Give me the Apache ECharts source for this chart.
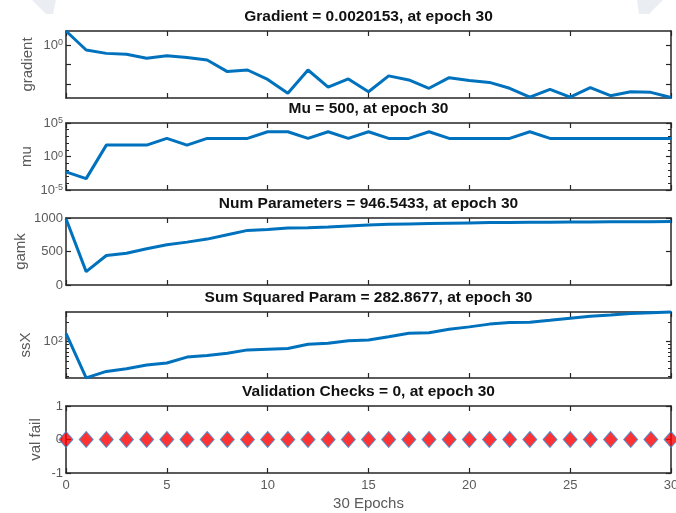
<!DOCTYPE html>
<html><head><meta charset="utf-8">
<script src="https://cdn.jsdelivr.net/npm/echarts@6/dist/echarts.min.js"></script>
<style>html,body{margin:0;padding:0;background:#fff}#c{width:676px;height:513px}</style>
</head><body><div id="c"></div>
<script>
const epochs = [0,1,2,3,4,5,6,7,8,9,10,11,12,13,14,15,16,17,18,19,20,21,22,23,24,25,26,27,28,29,30];
const gradient = [5.2,0.55,0.37,0.33,0.21,0.28,0.23,0.17,0.043,0.052,0.017,0.0033,0.052,0.0068,0.018,0.0040,0.026,0.016,0.0060,0.021,0.015,0.012,0.0060,0.0021,0.0053,0.0021,0.0065,0.0025,0.0040,0.0037,0.0020153];
const mu = [0.005,0.0005,50,50,50,500,50,500,500,500,5000,5000,500,5000,500,5000,500,500,5000,500,500,500,500,5000,500,500,500,500,500,500,500];
const gamk = [990,200,440,475,540,600,640,685,750,815,830,850,855,865,880,895,905,912,918,923,927,931,934,936,938,940,942,943,944,945.5,946.5433];
const ssX = [134,28.1,35.3,38.8,44.2,47.3,58.2,61.5,66.8,75,76.9,78.5,91.5,94.6,103.5,106,119,134,137,154,168,185,196,198,212,228,244,255,268,276,282.8677];
const valFail = [0,0,0,0,0,0,0,0,0,0,0,0,0,0,0,0,0,0,0,0,0,0,0,0,0,0,0,0,0,0,0];

const titles = ['Gradient = 0.0020153, at epoch 30','Mu = 500, at epoch 30','Num Parameters = 946.5433, at epoch 30','Sum Squared Param = 282.8677, at epoch 30','Validation Checks = 0, at epoch 30'];
const yNames = ['gradient','mu','gamk','ssX','val fail'];
const xTicks = [0,5,10,15,20,25,30];
const gradLabels = [1], gradMajor = [0.01,0.1,1], gradMinor = [];
const muLabels = [1e-5,1,1e5], muMajor = [1e-5,1,1e5], muMinor = [1e-4,1e-3,1e-2,1e-1,10,100,1000,1e4];
const ssXLabels = [100], ssXMajor = [100], ssXMinor = [30,40,50,60,70,80,90,200];
const gamkTicks = [0,500,1000];
const valTicks = [-1,0,1];

const L = 66, R = 5;
const tops = [31,123,218,312,406];
const hts = [67,67,67,66,67];
const nameGaps = [31,32,38,33,23];
const AX = '#262626', LBL = '#5a5a5a', BLUE = '#0072BD';
const FONT = 'Liberation Sans, Arial, sans-serif';

const grids = tops.map((t,i)=>({left:L, right:R, top:t, height:hts[i], outerBoundsMode:'none'}));
const title = titles.map((s,i)=>({text:s, left:368.5, textAlign:'center', top:tops[i]-22, padding:0,
  textStyle:{fontSize:15.5, fontWeight:'bold', color:'#111', fontFamily:FONT}}));

const axisLine = {show:true, onZero:false, lineStyle:{color:AX, width:1.5}};
const xAxis = [], yAxis = [];
tops.forEach((t,i)=>{
  const last = i===4;
  xAxis.push({gridIndex:i, type:'value', min:0, max:30, interval:5, position:'bottom',
    axisLine, splitLine:{show:false},
    axisTick:{show:true, inside:true, length:5, customValues:xTicks, lineStyle:{color:AX, width:1.2}},
    axisLabel:{show:last, customValues:xTicks, margin:6, fontSize:13, color:LBL, fontFamily:FONT},
    name: last ? '30 Epochs' : '', nameLocation:'middle', nameGap:23, nameMoveOverlap:false,
    nameTextStyle:{fontSize:15, color:LBL, fontFamily:FONT}});
  xAxis.push({gridIndex:i, type:'value', min:0, max:30, interval:5, position:'top',
    axisLine, splitLine:{show:false},
    axisTick:{show:true, inside:true, length:5, customValues:xTicks, lineStyle:{color:AX, width:1.2}},
    axisLabel:{show:false}});
});

function supFmt(v){ const e = Math.round(Math.log10(v)); return '{b|10}{s|' + e + '}'; }
function plainFmt(v){ return String(v); }
const rich = {b:{fontSize:13, color:LBL, fontFamily:FONT, verticalAlign:'bottom'}, s:{fontSize:9, color:LBL, fontFamily:FONT, verticalAlign:'top'}};

const ycfg = [
  {type:'log', min:0.0019, max:5.2, labels:gradLabels, major:gradMajor, minor:gradMinor},
  {type:'log', min:1e-5, max:1e5, labels:muLabels, major:muMajor, minor:muMinor},
  {type:'value', min:0, max:1000, labels:gamkTicks, major:gamkTicks, minor:[]},
  {type:'log', min:28, max:282.8677, labels:ssXLabels, major:ssXMajor, minor:ssXMinor},
  {type:'value', min:-1, max:1, labels:valTicks, major:valTicks, minor:[]}
];
ycfg.forEach((c,i)=>{
  const isLog = c.type==='log';
  const lbl = {show:true, customValues:c.labels, margin:3, fontSize:13, color:LBL, fontFamily:FONT};
  if (isLog) { lbl.formatter = supFmt; lbl.rich = rich; } else { lbl.formatter = plainFmt; }
  ['left','right'].forEach(pos=>{
    yAxis.push({gridIndex:i, type:c.type, min:c.min, max:c.max, position:pos,
      axisLine, splitLine:{show:false},
      axisTick:{show:true, inside:true, length:5, customValues:c.major, lineStyle:{color:AX, width:1.2}},
      axisLabel: pos==='left' ? lbl : {show:false},
      name: pos==='left' ? yNames[i] : '', nameLocation:'middle', nameGap:nameGaps[i], nameMoveOverlap:false,
      nameTextStyle:{fontSize:15, color:LBL, fontFamily:FONT}});
    if (c.minor.length) {
      yAxis.push({gridIndex:i, type:c.type, min:c.min, max:c.max, position:pos,
        axisLine:{show:false, onZero:false}, splitLine:{show:false},
        axisTick:{show:true, inside:true, length:3, customValues:c.minor, lineStyle:{color:AX, width:1}},
        axisLabel:{show:false}});
    }
  });
});

const yLeftIdx = [];
yAxis.forEach((a,k)=>{ if (a.position==='left' && a.name!=='' && yLeftIdx[a.gridIndex]===undefined) yLeftIdx[a.gridIndex]=k; });

const dataSets = [gradient, mu, gamk, ssX];
const series = dataSets.map((arr,i)=>({
  type:'line', xAxisIndex:i*2, yAxisIndex:yLeftIdx[i],
  data: epochs.map((e,k)=>[e, arr[k]]),
  showSymbol:false, clip:false, silent:true,
  lineStyle:{color:BLUE, width:3}, itemStyle:{color:BLUE}
}));
series.push({type:'scatter', xAxisIndex:8, yAxisIndex:yLeftIdx[4],
  data: epochs.map((e,k)=>[e, valFail[k]]), symbol:'diamond', symbolSize:[14,16], clip:false, silent:true,
  itemStyle:{color:'#FF0000', borderColor:'#3a8fd6', borderWidth:1}});

const chart = echarts.init(document.getElementById('c'), null, {renderer:'canvas'});
chart.setOption({
  animation:false, backgroundColor:'#fff',
  title, grid:grids, xAxis, yAxis, series,
  graphic:[
    {type:'polygon', shape:{points:[[32,0],[56,0],[53,14],[46,14]]}, style:{fill:'#eaeef3'}, z:-10},
    {type:'polygon', shape:{points:[[637,0],[663,0],[649,14],[639,14]]}, style:{fill:'#eaeef3'}, z:-10}
  ]
});
</script></body></html>
